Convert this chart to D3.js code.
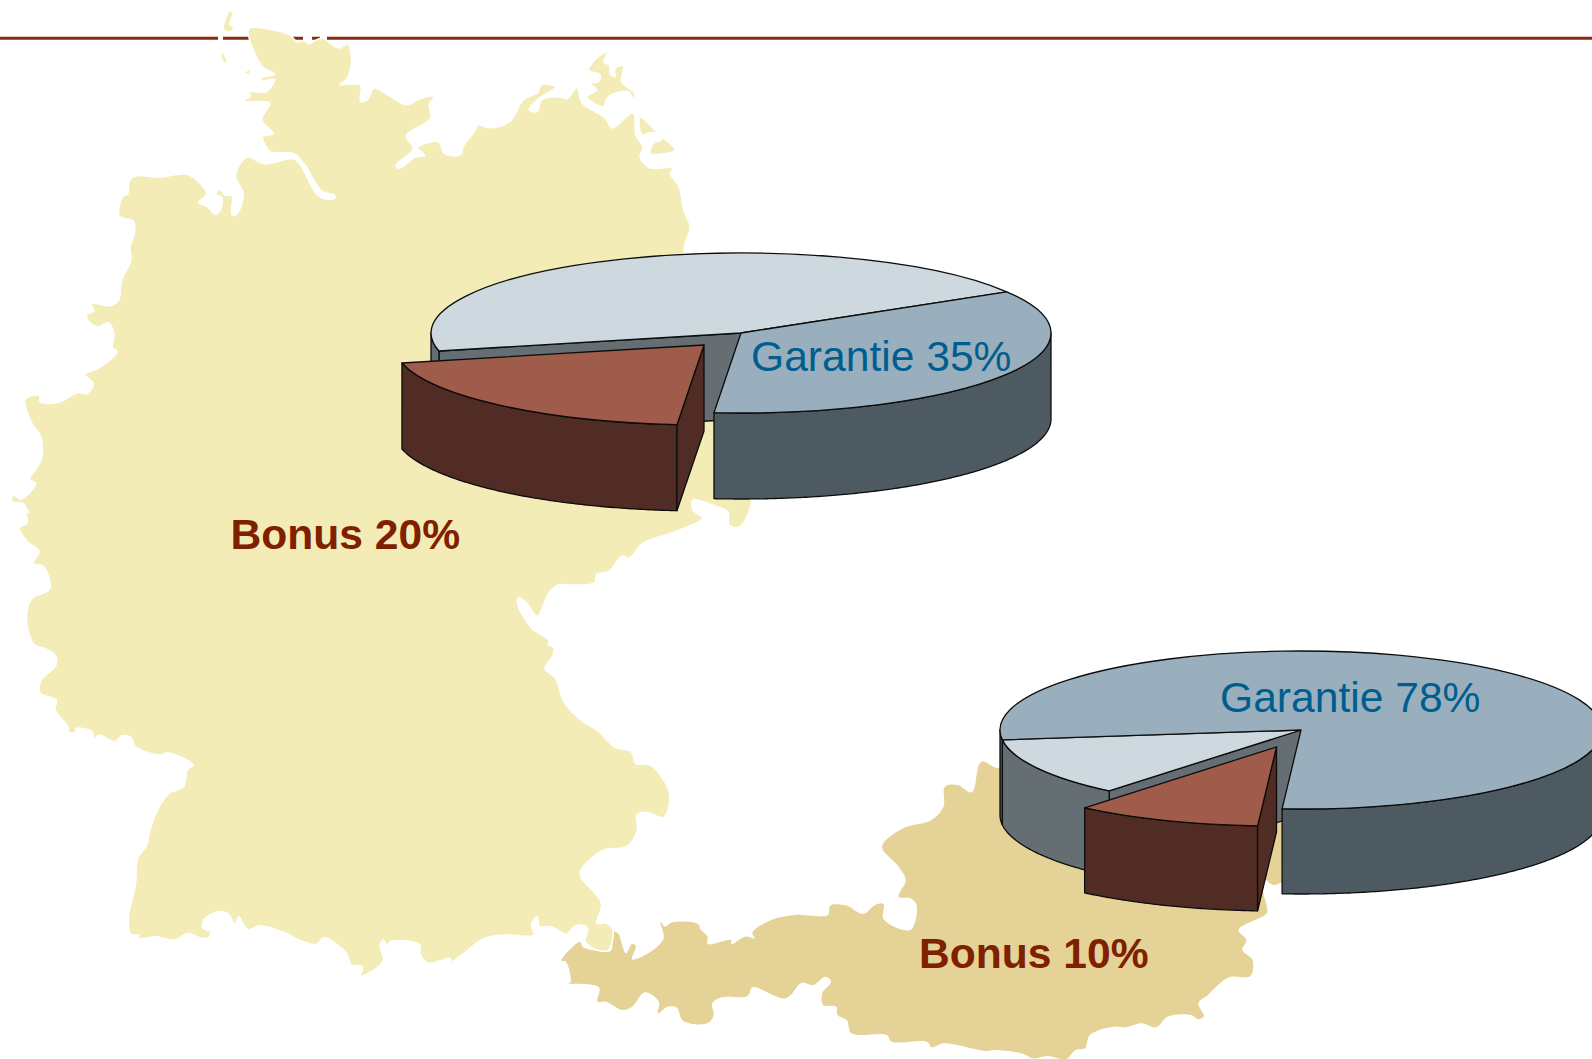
<!DOCTYPE html>
<html><head><meta charset="utf-8">
<script src="https://cdnjs.cloudflare.com/ajax/libs/d3/7.8.5/d3.min.js"></script>
<style>html,body{margin:0;padding:0;background:#fff;overflow:hidden}svg{display:block}</style>
</head><body>
<script>
// ---- chart values ----
const sliceNames = ["Garantie", "Bonus", "Rest"];
const germanyValues = [35, 20, 45];
const austriaValues = [78, 10, 12];
const labels = ["Garantie 35%", "Bonus 20%", "Garantie 78%", "Bonus 10%"];

// ---- background map outlines, traced in crop coordinates ----
const deNorthCoast = [[542,85],[580,85],[632,104],[647,124],[662,121],[673,130],[682,124],[701,112],[730,139],[740,142],[758,130],[765,165],[765,190],[755,235],[740,250],[785,252],[785,300],[800,295],[815,262],[850,285],[885,310],[915,292],[945,285],[935,310],[938,350],[885,402],[900,440],[862,490],[870,498],[905,465],[925,460],[910,437],[955,420],[968,455],[1003,458],[1010,430],[1033,390],[1040,370],[1065,378],[1110,360],[1140,295],[1170,275],[1180,250],[1210,258],[1175,290],[1152,325],[1170,330],[1180,295],[1220,287],[1235,292],[1257,260],[1268,305],[1318,349],[1333,379],[1379,334],[1385,400],[1400,435],[1394,465],[1416,497],[1466,497],[1460,515],[1478,550],[1490,625],[1503,670],[1490,750]];
const deHiddenEast = [[735,350],[752,500],[739,527],[729,525],[728,512],[712,505],[693,500],[693,510]];
const deSouth = [[1530,55],[1480,90],[1460,100],[1400,130],[1370,175],[1355,168],[1325,215],[1300,222],[1295,248],[1240,255],[1215,255],[1195,280],[1170,348],[1145,305],[1130,293],[1127,310],[1158,385],[1195,420],[1195,435],[1205,440],[1205,465],[1187,505],[1210,535],[1230,610],[1270,665],[1300,690],[1340,742],[1375,755],[1385,790],[1418,797],[1458,880],[1445,952],[1410,937],[1387,945],[1388,990],[1365,1040],[1315,1050],[1265,1110],[1265,1130],[1310,1210],[1300,1270],[1320,1270],[1335,1290],[1325,1350],[1305,1352],[1275,1325],[1280,1285],[1265,1275],[1250,1280],[1235,1303],[1200,1280],[1175,1280],[1170,1250],[1157,1275],[1163,1305],[1105,1305],[1055,1315],[1005,1365],[983,1385],[980,1375],[933,1390],[915,1360],[915,1335],[850,1325],[843,1340],[835,1320],[828,1335],[835,1380],[820,1405],[785,1427],[790,1400],[765,1395],[755,1360],[705,1313],[690,1333],[660,1325],[620,1298],[565,1277],[540,1290],[520,1250],[512,1272],[495,1240],[475,1235],[445,1258],[442,1285],[478,1297],[460,1297],[455,1313],[435,1313],[410,1300],[380,1320],[340,1310],[300,1315],[303,1305],[285,1303],[280,1250],[295,1155],[300,1075],[320,1035],[325,1000],[345,925],[368,880],[400,860],[408,810],[420,795],[365,758],[350,765],[295,740],[285,712],[265,708],[250,725],[215,705],[205,717],[200,695],[165,685],[165,697],[150,697],[148,680],[120,630],[123,600],[88,580],[88,545],[122,495],[120,465],[97,445],[75,435],[58,360],[70,295],[108,268],[95,200],[72,190],[85,155],[60,125],[42,85],[60,68],[55,35]];
const deWestCoast = [[62,1520],[50,1490],[25,1485],[30,1465],[45,1478],[78,1430],[65,1420],[90,1360],[88,1290],[72,1260],[55,1183],[85,1170],[88,1190],[130,1190],[170,1162],[190,1165],[203,1135],[185,1108],[215,1090],[255,1040],[245,1030],[248,985],[235,955],[215,968],[192,950],[190,930],[205,920],[198,898],[240,905],[258,890],[265,830],[285,770],[283,730],[293,690],[290,655],[260,640],[268,580],[278,575],[282,535],[300,520],[345,525],[405,515],[430,535],[450,575],[432,600],[450,610],[470,635],[480,620],[483,585],[470,575],[478,560],[490,578],[505,580],[505,635],[515,635],[530,575],[513,520],[538,465],[575,485],[640,470],[655,490],[690,575],[715,590],[730,585],[728,578],[700,565],[665,490],[640,455],[590,450],[580,435],[572,405],[595,395],[570,355],[587,305],[530,300],[545,285],[543,272],[580,272],[598,235],[570,240],[570,230],[598,220],[570,195]];
const deRuegen = [[140,38],[115,50],[100,65],[85,90],[120,105],[115,125],[90,130],[110,150],[80,170],[130,200],[140,175],[165,160],[205,155],[220,175],[225,160],[185,125],[190,78],[165,85],[165,110],[150,100],[148,75],[132,68]];
const deUsedom = [[1394,347],[1437,400],[1470,444],[1416,454],[1423,424],[1441,414],[1437,394],[1412,394],[1398,400]];
const deFrisianIslands = [[[230,11],[226,20],[224,28],[227,31],[233,29],[229,24],[232,14]],[[222,53],[226,60],[226,63],[222,58]],[[245,73],[250,70],[249,73]]];
const ruleGaps = [[220.5,5],[307.5,9],[323.5,7],[291.5,3]];
const atOutlineWest = [[45,662],[85,605],[90,620],[110,630],[150,632],[155,575],[165,580],[182,640],[195,612],[203,618],[195,658],[240,630],[262,595],[255,545],[265,560],[280,547],[335,552],[340,568],[355,590],[355,612],[405,600],[405,613],[435,590],[455,595],[450,578],[490,540],[540,525],[610,525],[615,497],[650,497],[685,522],[710,495],[728,492],[728,538],[785,570],[798,495],[785,475],[760,470],[775,420],[760,380],[725,320],[770,265],[830,240],[855,200],[858,140],[885,135],[915,157],[935,65],[975,85]];
const atHiddenEast = [[1100,720],[1300,760],[1300,880],[1281,883],[1273,885],[1265,880],[1263,890],[1267,907]];
const atOutlineSouth = [[1540,520],[1480,570],[1497,600],[1488,630],[1510,660],[1505,708],[1460,712],[1415,765],[1395,790],[1407,828],[1395,838],[1380,825],[1330,830],[1305,862],[1275,850],[1240,862],[1215,860],[1165,885],[1155,925],[1135,930],[1115,957],[1075,948],[1045,955],[1020,940],[965,930],[945,933],[855,910],[830,922],[820,905],[745,905],[735,885],[660,880],[650,840],[630,825],[628,800],[600,795],[598,760],[617,725],[605,710],[578,735],[555,728],[520,775],[450,742],[440,768],[385,772],[365,790],[368,825],[355,850],[303,842],[290,803],[270,800],[250,820],[252,785],[222,757],[195,800],[175,810],[140,785],[122,785],[125,742],[60,730],[65,725],[55,665]];

// ---- palette ----
const C = {de:"#F3ECB6", at:"#E5D296", rule:"#8B2A0D",
  top:["#9AAFBE","#A05C4A","#CDD8DF"], side:["#4E5A62","#502C24","#646E73"],
  blue:"#005E8F", red:"#7F2000"};

const W=1592,H=1059;
const svg=d3.select("body").append("svg").attr("width",W).attr("height",H);

// crop → page scales
const sx3=d3.scaleLinear().domain([0,720*2.178]).range([0,720]);
const sy3=d3.scaleLinear().domain([0,530*2.96]).range([0,530]);
const sy4=d3.scaleLinear().domain([0,1500]).range([500,1000]);
const sx5=d3.scaleLinear().domain([0,740*2.119]).range([540,1280]);
const sy5=d3.scaleLinear().domain([0,957]).range([740,1059]);
const z3=p=>[sx3(p[0]),sy3(p[1])], z4=p=>[sx3(p[0]),sy4(p[1])], z5=p=>[sx5(p[0]),sy5(p[1])];
const z6=p=>[560+p[0]/3,40+p[1]/3];

const closed=d3.line().curve(d3.curveCatmullRomClosed.alpha(0.5));

// rule with the small gaps the white island outlines cut in it
svg.append("line").attr("x1",0).attr("x2",W).attr("y1",38.3).attr("y2",38.3).attr("stroke",C.rule).attr("stroke-width",3);
svg.selectAll("line.gap").data(ruleGaps).join("line").attr("class","gap")
  .attr("x1",d=>d[0]).attr("x2",d=>d[0]).attr("y1",34).attr("y2",43)
  .attr("stroke","#fff").attr("stroke-width",d=>d[1]);

// Austria
svg.append("path").attr("fill",C.at)
  .attr("d",closed([...atOutlineWest.map(z5),...atHiddenEast,...atOutlineSouth.map(z5)]));

// Germany
const deG=svg.append("g").attr("fill",C.de).attr("stroke","#fff").attr("stroke-width",1.4);
deG.append("path").attr("d",closed([...deNorthCoast.map(z3),...deHiddenEast,...deSouth.map(z4),...deWestCoast.map(z3)]));
deG.append("path").attr("d",closed(deRuegen.map(z6)));
deG.append("path").attr("d",closed(deUsedom.map(z3)));
deFrisianIslands.forEach(a=>svg.append("path").attr("fill",C.de).attr("d",closed(a)));

// 3-D pie drawn through d3.pie / d3.arc
const rad=Math.PI/180;
function drawPie(values,o){
  const arcs=d3.pie().sort(null).startAngle(o.start*rad).endAngle((o.start+360)*rad)(values);
  const k=o.ry/o.rx;
  const arc=d3.arc().innerRadius(0).outerRadius(o.rx);
  const pt=(a,dy=0)=>[o.rx*Math.sin(a),-o.ry*Math.cos(a)+dy];
  const line=d3.line();
  const ln="#0c0c0c", lw=1.3;

  function outer(g,a0,a1,fill){
    // keep only the front half of the rim
    for(let n=-1;n<3;n++){
      const lo=Math.max(a0,(90+360*n)*rad), hi=Math.min(a1,(270+360*n)*rad);
      if(hi<=lo) continue;
      const as=d3.range(lo,hi,0.01).concat([hi]);
      const pts=[...as.map(a=>pt(a)),...as.slice().reverse().map(a=>pt(a,o.depth))];
      g.append("path").attr("d",line(pts)+"Z").attr("fill",fill).attr("stroke",ln).attr("stroke-width",lw).attr("stroke-linejoin","round");
    }
  }
  function face(g,a,fill){
    const e=pt(a);
    g.append("path").attr("d",line([[0,0],e,[e[0],o.depth+e[1]],[0,o.depth]])+"Z").attr("fill",fill).attr("stroke",ln).attr("stroke-width",lw).attr("stroke-linejoin","round");
  }
  function top(g,d,fill){
    g.append("path").attr("d",arc(d)).attr("transform",`scale(1,${k})`).attr("fill",fill)
      .attr("stroke",ln).attr("stroke-width",lw).attr("stroke-linejoin","round").attr("vector-effect","non-scaling-stroke");
  }

  const base=svg.append("g").attr("transform",`translate(${o.cx},${o.cy})`);
  const [blue,brown,light]=arcs;
  face(base,light.startAngle,C.side[2]);
  outer(base,light.startAngle,light.endAngle,C.side[2]);
  outer(base,blue.startAngle,blue.endAngle,C.side[0]);
  top(base,light,C.top[2]);
  top(base,blue,C.top[0]);

  const ex=svg.append("g").attr("transform",`translate(${o.cx+o.ex},${o.cy+o.ey})`);
  outer(ex,brown.startAngle,brown.endAngle,C.side[1]);
  face(ex,brown.startAngle,C.side[1]);
  top(ex,brown,C.top[1]);
}
drawPie(germanyValues,{cx:741,cy:333,rx:310,ry:80,depth:86,start:59,ex:-37,ey:12});
drawPie(austriaValues,{cx:1301,cy:730,rx:301,ry:79,depth:85,start:262.8,ex:-24.5,ey:17});

// labels
const labelStyle=[
 {x:751,y:371,fill:C.blue,w:400},{x:230.5,y:549,fill:C.red,w:700},
 {x:1220,y:711.5,fill:C.blue,w:400},{x:919,y:967.5,fill:C.red,w:700}];
svg.selectAll("text.lab").data(labels).join("text").attr("class","lab")
  .attr("x",(d,i)=>labelStyle[i].x).attr("y",(d,i)=>labelStyle[i].y)
  .attr("fill",(d,i)=>labelStyle[i].fill).attr("font-weight",(d,i)=>labelStyle[i].w)
  .attr("font-family","'Liberation Sans',Arial,sans-serif").attr("font-size",42.6).text(d=>d);
</script>
</body></html>
